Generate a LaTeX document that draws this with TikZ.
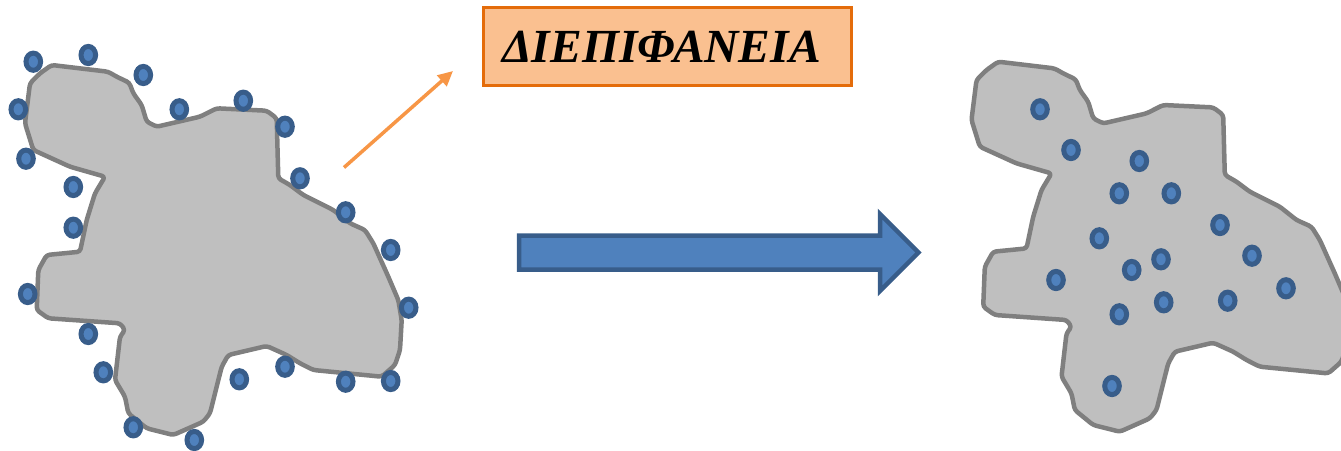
\documentclass[tikz,border=0pt]{standalone}
\usepackage{fontspec}
\setmainfont{Liberation Serif}
\usetikzlibrary{arrows.meta}
\definecolor{blobfill}{HTML}{BFBFBF}
\definecolor{blobline}{HTML}{7F7F7F}
\definecolor{dotfill}{HTML}{4F81BD}
\definecolor{dotline}{HTML}{385D8A}
\definecolor{boxfill}{HTML}{FAC090}
\definecolor{boxline}{HTML}{E46C0A}
\definecolor{orangeline}{HTML}{F79646}
\tikzset{
  blob/.style={fill=blobfill, draw=blobline, line width=4.5pt, line join=round, rounded corners=3pt},
  dotmark/.style={fill=dotfill, draw=dotline, line width=5pt},
  labelbox/.style={fill=boxfill, draw=boxline, line width=2.2pt, minimum width=368pt, minimum height=78pt, inner sep=0pt,
    font=\fontsize{47.5}{47.5}\selectfont\bfseries\itshape},
  orangearrow/.style={draw=orangeline, line width=3.5pt, -{Triangle[length=15pt,width=14pt]}},
  bigarrow/.style={fill=dotfill, draw=dotline, line width=4.5pt, line join=miter}
}
\newcommand{\blobpath}{(51.7,65) -- (108,71.7) -- (116.7,76.7) -- (129.3,82.7) -- (133.3,93.3) -- (141.7,105) -- (146.7,121.7) -- (156.7,126.7) -- (200,116.7) -- (216.7,108.3) -- (266.7,110.7) -- (276.7,118.3) -- (278.3,178.3) -- (290,185) -- (303.3,195) -- (316.7,201.7) -- (333.3,210) -- (350,223.3) -- (365,230) -- (373.3,243.3) -- (388.3,276.7) -- (398.3,300) -- (401.7,320) -- (400,350) -- (395,365) -- (381.7,376.7) -- (313.3,370) -- (300,363.3) -- (286.7,355) -- (266.7,346) -- (228.3,355) -- (221.7,366.7) -- (210,413.3) -- (203.3,421.7) -- (173.3,435) -- (146.7,428.3) -- (128.3,413.3) -- (125,396.7) -- (115,380) -- (120,336.7) -- (125,330) -- (120,323.3) -- (48.3,318.3) -- (36.7,310) -- (38.3,270) -- (46.7,255) -- (80,251.7) -- (86.7,220) -- (95,193.3) -- (105,176.7) -- (70,166.7) -- (33.3,150) -- (25,123.3) -- (30,83.3) -- (40,73.3) -- cycle}
\begin{document}
\begin{tikzpicture}[x=1pt,y=-1pt]
\useasboundingbox (0,0) rectangle (1341,450);
\begin{scope}
\clip (0,0) rectangle (1341,450);
% left blob
\path[blob] \blobpath;
% right blob
\begin{scope}[shift={(946.5,-3.3)}]
\path[blob] \blobpath;
\end{scope}
% dots on the left interface
\foreach \x/\y in {33.3/61.7, 88.3/55, 143.3/75, 18.3/109.3, 179.3/109.3, 243.3/100.7, 285/126.7, 26/158.7, 73.3/187, 300/178.3, 73.3/227.7, 345.7/212.3, 390.7/250, 27.7/294, 408.7/307.7, 88.3/334, 103.3/372.3, 239.3/379.3, 285/366.7, 345.7/381.7, 390.7/381, 133.3/427.3, 194.3/440}
  \draw[dotmark] (\x,\y) ellipse [x radius=7.3pt, y radius=8.6pt];
% dots inside the right blob
\foreach \x/\y in {1040/109.3, 1071/150, 1139.3/161, 1119.3/193.3, 1171.3/193.3, 1220/225, 1099.3/238.3, 1252/255.7, 1161/259.3, 1131.7/270, 1056/280, 1286/288.3, 1163.7/302.3, 1227.7/300.7, 1119.3/314.3, 1112/386}
  \draw[dotmark] (\x,\y) ellipse [x radius=7.3pt, y radius=8.6pt];
\end{scope}
% label
\node[labelbox] (lbl) at (667.5,46.5) {\hspace*{-12pt}ΔΙΕΠΙΦΑΝΕΙΑ};
% orange pointer
\coordinate (oa1) at (344,167.5);
\coordinate (oa2) at (453,71);
\draw[orangearrow] (oa1) -- (oa2);
% big arrow
\draw[bigarrow] (519,235.5) -- (880,235.5) -- (880,214) -- (918.5,252.5) -- (880,291) -- (880,269.5) -- (519,269.5) -- cycle;
\end{tikzpicture}
\end{document}
